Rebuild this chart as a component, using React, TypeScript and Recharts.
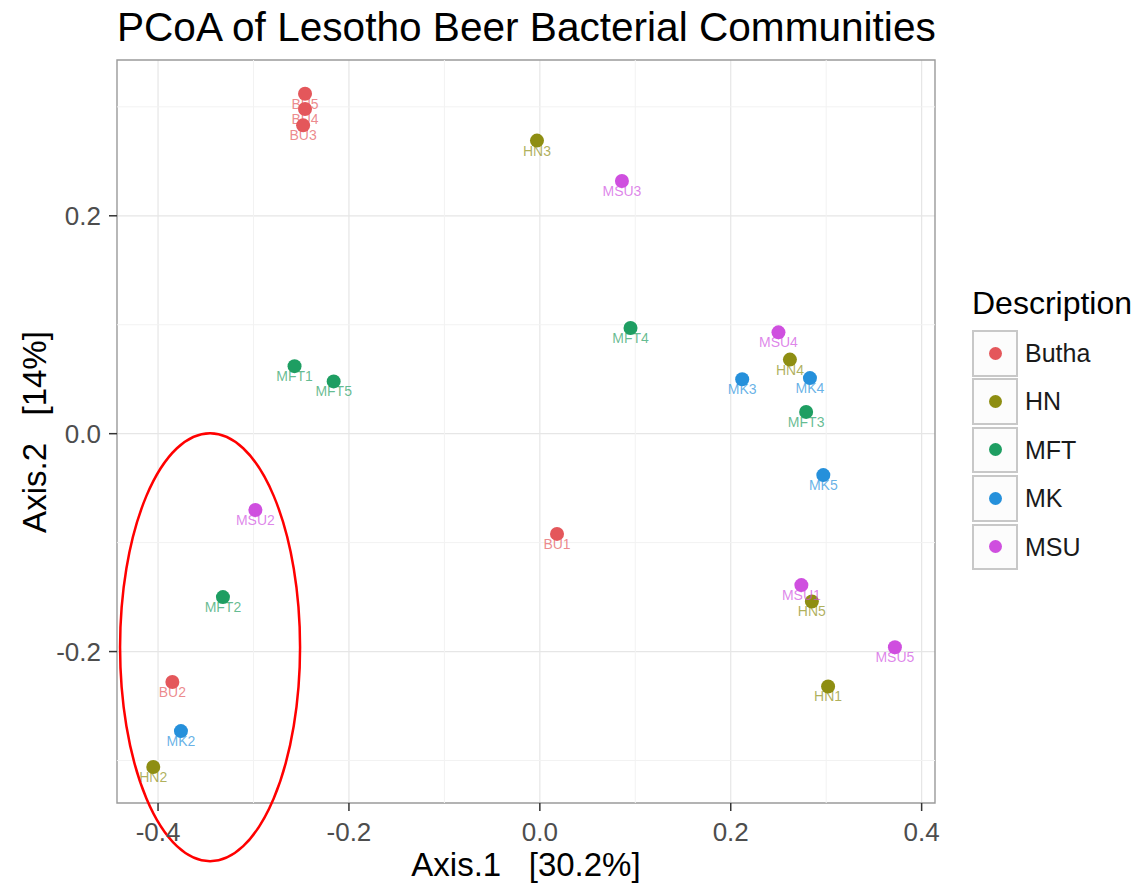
import { ScatterChart, Scatter, XAxis, YAxis, CartesianGrid, ReferenceLine, ReferenceArea, ReferenceDot } from 'recharts'

interface Sample {
  name: string
  x: number
  y: number
}

const GROUPS = ['Butha', 'HN', 'MFT', 'MK', 'MSU']
const COLORS = ['#E4575B', '#8E8E12', '#1E9E62', '#2590DB', '#CF4FDF']

const butha: Sample[] = [
  { name: 'BU1', x: 0.018, y: -0.092 },
  { name: 'BU2', x: -0.385, y: -0.228 },
  { name: 'BU3', x: -0.248, y: 0.283 },
  { name: 'BU4', x: -0.246, y: 0.298 },
  { name: 'BU5', x: -0.246, y: 0.312 },
]
const hn: Sample[] = [
  { name: 'HN1', x: 0.302, y: -0.232 },
  { name: 'HN2', x: -0.405, y: -0.306 },
  { name: 'HN3', x: -0.003, y: 0.269 },
  { name: 'HN4', x: 0.262, y: 0.068 },
  { name: 'HN5', x: 0.285, y: -0.154 },
]
const mft: Sample[] = [
  { name: 'MFT1', x: -0.257, y: 0.062 },
  { name: 'MFT2', x: -0.332, y: -0.150 },
  { name: 'MFT3', x: 0.279, y: 0.020 },
  { name: 'MFT4', x: 0.095, y: 0.097 },
  { name: 'MFT5', x: -0.216, y: 0.048 },
]
const mk: Sample[] = [
  { name: 'MK2', x: -0.376, y: -0.273 },
  { name: 'MK3', x: 0.212, y: 0.050 },
  { name: 'MK4', x: 0.283, y: 0.051 },
  { name: 'MK5', x: 0.297, y: -0.038 },
]
const msu: Sample[] = [
  { name: 'MSU1', x: 0.274, y: -0.139 },
  { name: 'MSU2', x: -0.298, y: -0.070 },
  { name: 'MSU3', x: 0.086, y: 0.232 },
  { name: 'MSU4', x: 0.250, y: 0.093 },
  { name: 'MSU5', x: 0.372, y: -0.196 },
]
const SERIES = [butha, hn, mft, mk, msu]

const X_DOMAIN = [-0.443, 0.414]
const Y_DOMAIN = [-0.339, 0.343]
const X_TICKS = [-0.4, -0.2, 0, 0.2, 0.4]
const Y_TICKS = [-0.2, 0, 0.2]
const X_MINOR = [-0.3, -0.1, 0.1, 0.3]
const Y_MINOR = [-0.3, -0.1, 0.1, 0.3]

const FONT = '"Liberation Sans", Arial, Helvetica, sans-serif'

const makeShape = (color: string) => (props: any) => {
  const { cx, cy, payload } = props
  return (
    <g>
      <circle cx={cx} cy={cy} r={7} fill={color} />
      <text x={cx} y={cy + 15} textAnchor="middle" fontSize={14} fill={color} fillOpacity={0.7} fontFamily={FONT}>
        {payload.name}
      </text>
    </g>
  )
}

const Ellipse = (props: any) => {
  const { cx, cy } = props
  return <ellipse cx={cx} cy={cy} rx={90} ry={214} fill="none" stroke="#FF0000" strokeWidth={2.5} />
}

const fmt = (v: number) => v.toFixed(1)

export default function App() {
  return (
    <div style={{ position: 'absolute', left: 0, top: 0, width: 1147, height: 887, background: '#fff', fontFamily: FONT }}>
      <div style={{ position: 'absolute', left: 117, top: 4, fontSize: 40.6, color: '#000', whiteSpace: 'nowrap' }}>
        PCoA of Lesotho Beer Bacterial Communities
      </div>
      <ScatterChart width={1147} height={887} margin={{ top: 60, right: 212, bottom: 24, left: 57 }}>
        <CartesianGrid stroke="#E6E6E6" strokeWidth={1.2} verticalValues={X_TICKS} horizontalValues={Y_TICKS} />
        {X_MINOR.map((v) => (
          <ReferenceLine key={`xm${v}`} x={v} stroke="#F2F2F2" strokeWidth={1} />
        ))}
        {Y_MINOR.map((v) => (
          <ReferenceLine key={`ym${v}`} y={v} stroke="#F2F2F2" strokeWidth={1} />
        ))}
        <ReferenceArea
          x1={X_DOMAIN[0]}
          x2={X_DOMAIN[1]}
          y1={Y_DOMAIN[0]}
          y2={Y_DOMAIN[1]}
          fill="none"
          fillOpacity={0}
          stroke="#9A9A9A"
          strokeWidth={1.4}
          strokeOpacity={1}
          ifOverflow="visible"
        />
        <XAxis
          type="number"
          dataKey="x"
          domain={X_DOMAIN}
          ticks={X_TICKS}
          tickFormatter={fmt}
          allowDataOverflow
          height={60}
          tickSize={8}
          tickMargin={12}
          axisLine={false}
          tickLine={{ stroke: '#333', strokeWidth: 1.5 }}
          tick={{ fontSize: 26, fill: '#4D4D4D', fontFamily: FONT }}
        />
        <YAxis
          type="number"
          dataKey="y"
          domain={Y_DOMAIN}
          ticks={Y_TICKS}
          tickFormatter={fmt}
          allowDataOverflow
          width={60}
          tickSize={8}
          tickMargin={8}
          axisLine={false}
          tickLine={{ stroke: '#333', strokeWidth: 1.5 }}
          tick={{ fontSize: 26, fill: '#4D4D4D', fontFamily: FONT }}
        />
        {SERIES.map((data, i) => (
          <Scatter key={GROUPS[i]} name={GROUPS[i]} data={data} shape={makeShape(COLORS[i])} isAnimationActive={false} />
        ))}
        <ReferenceDot x={-0.3455} y={-0.196} ifOverflow="visible" shape={Ellipse} />
      </ScatterChart>
      <div style={{ position: 'absolute', left: 0, width: 1052, top: 846, textAlign: 'center', fontSize: 33, whiteSpace: 'pre', color: '#000' }}>
        {'Axis.1   [30.2%]'}
      </div>
      <div
        style={{
          position: 'absolute', left: 35, top: 432, fontSize: 33, whiteSpace: 'pre', color: '#000',
          transform: 'translate(-50%, -50%) rotate(-90deg)',
        }}
      >
        {'Axis.2   [14%]'}
      </div>
      <div style={{ position: 'absolute', left: 972, top: 285, fontSize: 32, color: '#000' }}>Description</div>
      <div style={{ position: 'absolute', left: 972, top: 329 }}>
        {GROUPS.map((g, i) => (
          <div key={g} style={{ display: 'flex', alignItems: 'center', height: 48.5 }}>
            <div
              style={{
                width: 46, height: 46.5, border: '2px solid #C8C8C8', background: '#FCFCFC',
                display: 'flex', alignItems: 'center', justifyContent: 'center', boxSizing: 'border-box',
                marginTop: i === 0 ? 0 : -1,
              }}
            >
              <div style={{ width: 13, height: 13, borderRadius: '50%', background: COLORS[i] }} />
            </div>
            <span style={{ marginLeft: 7, fontSize: 25, color: '#1a1a1a' }}>{g}</span>
          </div>
        ))}
      </div>
    </div>
  )
}
